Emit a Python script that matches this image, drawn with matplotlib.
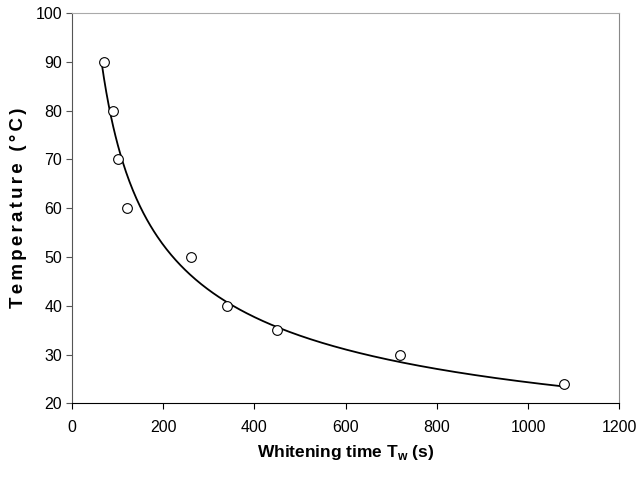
import numpy as np
import matplotlib.pyplot as plt

# data
time_s = np.array([70, 90, 100, 120, 260, 340, 450, 720, 1080])
temp_c = np.array([90, 80, 70, 60, 50, 40, 35, 30, 24])
fit_start, fit_end = 65, 1080

# power trendline T = a * t^b, least squares on T
best = None
for b in np.linspace(-1.0, -0.1, 1801):
    tb = time_s ** b
    a = np.sum(temp_c * tb) / np.sum(tb * tb)
    err = np.sum((temp_c - a * tb) ** 2)
    if best is None or err < best[0]:
        best = (err, a, b)
_, a_fit, b_fit = best
t_fit = np.linspace(fit_start, fit_end, 400)
T_fit = a_fit * t_fit ** b_fit

plt.rcParams['font.family'] = ['Liberation Sans', 'DejaVu Sans']

fig = plt.figure(figsize=(6.4, 4.86), dpi=100)
ax = fig.add_axes([0.1125, 0.170, 0.855, 0.803])

ax.plot(t_fit, T_fit, color='black', linewidth=1.3, zorder=2)
ax.plot(time_s, temp_c, 'o', markersize=7, markerfacecolor='white',
        markeredgecolor='black', markeredgewidth=0.8, zorder=3)

ax.set_xlim(0, 1200)
ax.set_ylim(20, 100)
ax.set_xticks(np.arange(0, 1201, 200))
ax.set_yticks(np.arange(20, 101, 10))
ax.tick_params(direction='out', length=4, width=0.8, labelsize=11.5, pad=3)
ax.tick_params(axis='x', pad=8)

ax.spines['top'].set_color('#aaaaaa')
ax.spines['right'].set_color('#888888')
ax.spines['left'].set_color('#555555')
ax.spines['bottom'].set_color('black')
ax.tick_params(axis='y', colors='#555555', labelcolor='black')

ax.set_xlabel('Whitening time T$_\\mathregular{w}$ (s)', fontsize=12.5,
              fontweight='bold', labelpad=6)
ax.set_ylabel('\u200a\u200a'.join('Temperature (°C)'), fontsize=13.5,
              fontweight='bold', labelpad=6)

plt.savefig('out.png', dpi=100)
